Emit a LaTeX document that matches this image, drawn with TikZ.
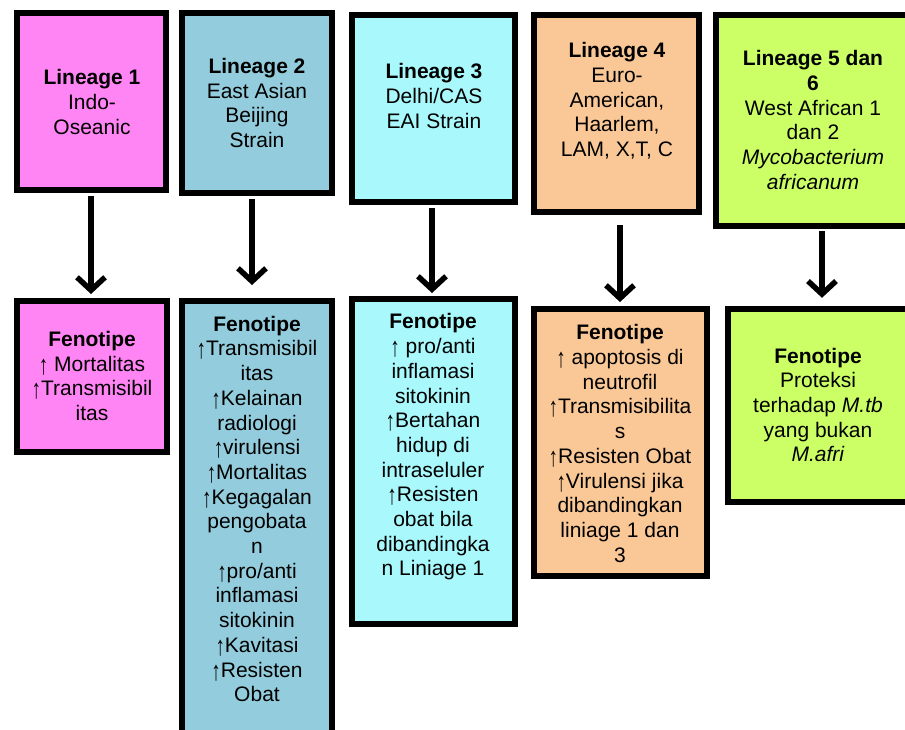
\documentclass[tikz,border=0pt]{standalone}
\usepackage{fontspec}
\usepackage{graphicx}
\setmainfont{Liberation Sans}
\usetikzlibrary{arrows.meta}
\definecolor{cpink}{HTML}{FF85F5}
\definecolor{cblue}{HTML}{93CDDD}
\definecolor{ccyan}{HTML}{A8F8FC}
\definecolor{corange}{HTML}{FAC896}
\definecolor{cgreen}{HTML}{CCFF66}
\newcommand{\upar}{\raisebox{-3pt}{\scalebox{0.9}[1.3]{↑}}}
\begin{document}
\begin{tikzpicture}[x=1pt,y=-1pt,
  box/.style={draw=black, line width=6pt, inner sep=0pt},
  openbox/.style={fill=#1, inner sep=0pt},
  edge3/.style={line width=6pt},
  txt/.style={align=center, inner sep=0pt, font=\fontsize{21}{24.7}\selectfont},
  arr/.style={line width=5.5pt, -{Straight Barb[length=13pt,width=28pt]}}]
\useasboundingbox (0,0) rectangle (905,729);
\clip (0,0) rectangle (905,729);
% top boxes
\node[box, fill=cpink,   minimum width=149pt, minimum height=177pt] (T1) at (91.5,101.5) {};
\node[box, fill=cblue,   minimum width=150pt, minimum height=180pt] (T2) at (257,103) {};
\node[box, fill=ccyan,   minimum width=163pt, minimum height=187pt] (T3) at (433.5,108.5) {};
\node[box, fill=corange, minimum width=165pt, minimum height=197pt] (T4) at (616.5,113.5) {};
\node[openbox=cgreen, minimum width=214pt, minimum height=211pt] (T5) at (823,120.5) {};
\draw[edge3] (T5.north east) -- (T5.north west) -- (T5.south west) -- (T5.south east);
% bottom boxes
\node[box, fill=cpink,   minimum width=150pt, minimum height=151pt] (F1) at (92,376.5) {};
\node[box, fill=cblue,   minimum width=150pt, minimum height=439pt] (F2) at (257,520.5) {};
\node[box, fill=ccyan,   minimum width=163pt, minimum height=325pt] (F3) at (433.5,461.5) {};
\node[box, fill=corange, minimum width=173pt, minimum height=267pt] (F4) at (620.5,442.5) {};
\node[openbox=cgreen, minimum width=202pt, minimum height=193pt] (F5) at (829,405.5) {};
\draw[edge3] (F5.north east) -- (F5.north west) -- (F5.south west) -- (F5.south east);
% texts
\node[txt] (T1t) at (92,102) {\textbf{Lineage 1}\\Indo-\\Oseanic};
\node[txt] (T2t) at (257,103) {\textbf{Lineage 2}\\East Asian\\Beijing\\Strain};
\node[txt] (T3t) at (434,96) {\textbf{Lineage 3}\\Delhi/CAS\\EAI Strain};
\node[txt] (T4t) at (617,101) {\textbf{Lineage 4}\\Euro-\\American,\\Haarlem,\\LAM, X,T, C};
\node[txt] (T5t) at (813,120) {\textbf{Lineage 5 dan}\\\textbf{6}\\West African 1\\dan 2\\\textit{Mycobacterium}\\\textit{africanum}};
\node[txt] (F1t) at (92,376) {\textbf{Fenotipe}\\\upar{} Mortalitas\\\upar Transmisibil\\itas};
\node[txt] (F2t) at (257,509) {\textbf{Fenotipe}\\\upar Transmisibil\\itas\\\upar Kelainan\\radiologi\\\upar virulensi\\\upar Mortalitas\\\upar Kegagalan\\pengobata\\n\\\upar pro/anti\\inflamasi\\sitokinin\\\upar Kavitasi\\\upar Resisten\\Obat};
\node[txt] (F3t) at (433,447) {\textbf{Fenotipe}\\\upar{} pro/anti\\inflamasi\\sitokinin\\\upar Bertahan\\hidup di\\intraseluler\\\upar Resisten\\obat bila\\dibandingka\\n Liniage 1};
\node[txt] (F4t) at (620,443.5) {\textbf{Fenotipe}\\\upar{} apoptosis di\\neutrofil\\\upar Transmisibilita\\s\\\upar Resisten Obat\\\upar Virulensi jika\\dibandingkan\\liniage 1 dan\\3};
\node[txt] (F5t) at (818,405) {\textbf{Fenotipe}\\Proteksi\\terhadap \textit{M.tb}\\yang bukan\\\textit{M.afri}};
% arrows
\draw[arr, shorten <=3pt, shorten >=4pt] ([xshift=-0.5pt]T1.south) -- ([xshift=-0.5pt]T1.south |- F1.north);
\draw[arr, shorten <=3pt, shorten >=13pt] ([xshift=-5pt]T2.south) -- ([xshift=-5pt]T2.south |- F2.north);
\draw[arr, shorten <=3pt, shorten >=3pt] ([xshift=-1.5pt]T3.south) -- ([xshift=-1.5pt]T3.south |- F3.north);
\draw[arr, shorten <=10pt, shorten >=4pt] ([xshift=3.5pt]T4.south) -- ([xshift=3.5pt]T4.south |- F4.north);
\draw[arr, shorten <=5pt, shorten >=11pt] ([xshift=-1pt]T5.south) -- ([xshift=-1pt]T5.south |- F5.north);
\end{tikzpicture}
\end{document}
